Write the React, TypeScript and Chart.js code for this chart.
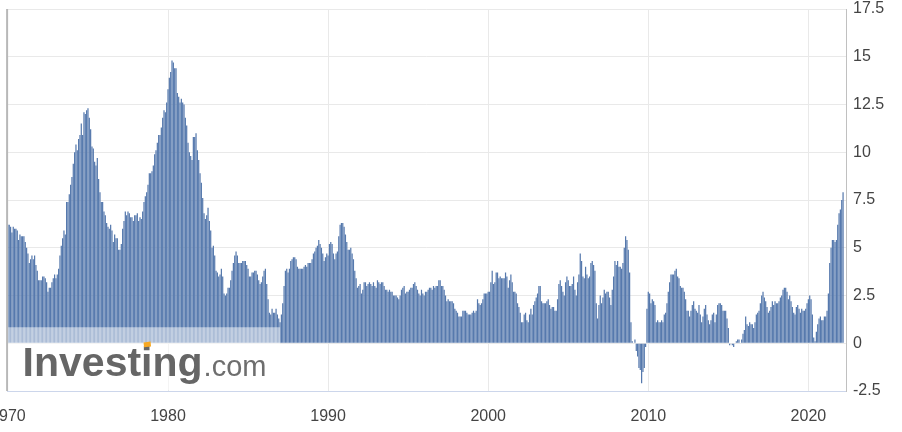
import React, { useEffect, useRef } from "react";
import { Chart, registerables } from "chart.js";

Chart.register(...registerables);

// US CPI, year-over-year %, one value per monthly release (first release: Jan 1970)
const FIRST_RELEASE_YEAR = 1970;
const cpiDec1969 = [6.2];
const cpi1970s = [
  6.2, 6.1, 5.8, 6.1, 6.0, 6.0, 5.9, 5.4, 5.7, 5.6, 5.6, 5.6,
  5.3, 5.0, 4.7, 4.2, 4.4, 4.6, 4.4, 4.6, 4.1, 3.8, 3.3, 3.3,
  3.3, 3.5, 3.5, 3.4, 3.2, 2.7, 2.9, 2.9, 3.2, 3.4, 3.6, 3.4,
  3.6, 3.9, 4.6, 5.1, 5.5, 5.9, 5.7, 7.4, 7.4, 7.8, 8.3, 8.7,
  9.4, 10.0, 10.4, 10.1, 10.7, 10.9, 11.5, 10.9, 12.1, 12.0, 12.2, 12.3,
  11.8, 11.2, 10.3, 10.2, 9.5, 9.3, 9.7, 8.6, 7.9, 7.4, 7.4, 6.9,
  6.7, 6.3, 6.1, 6.0, 6.2, 5.9, 5.3, 5.7, 5.5, 5.5, 4.9, 4.9,
  5.2, 6.0, 6.4, 6.9, 6.7, 6.9, 6.8, 6.6, 6.6, 6.4, 6.7, 6.7,
  6.8, 6.4, 6.6, 6.5, 6.9, 7.4, 7.7, 7.9, 8.3, 8.9, 8.9, 9.0,
  9.3, 9.9, 10.1, 10.5, 10.9, 10.9, 11.3, 11.8, 12.2, 12.1, 12.6, 13.3,
];
const cpi1980s = [
  13.9, 14.2, 14.8, 14.7, 14.4, 14.4, 13.1, 12.9, 12.6, 12.8, 12.6, 12.5,
  11.8, 11.4, 10.5, 10.0, 9.8, 9.6, 10.8, 10.8, 11.0, 10.1, 9.6, 8.9,
  8.4, 7.6, 6.8, 6.5, 6.7, 7.1, 6.4, 5.9, 5.0, 5.1, 4.6, 3.8,
  3.7, 3.5, 3.6, 3.9, 3.5, 2.6, 2.5, 2.6, 2.9, 2.9, 3.3, 3.8,
  4.2, 4.6, 4.8, 4.6, 4.2, 4.2, 4.2, 4.3, 4.3, 4.3, 4.1, 3.9,
  3.5, 3.5, 3.7, 3.7, 3.8, 3.8, 3.6, 3.3, 3.1, 3.2, 3.5, 3.8,
  3.9, 3.1, 2.3, 1.6, 1.5, 1.8, 1.6, 1.6, 1.8, 1.5, 1.3, 1.1,
  1.5, 2.1, 3.0, 3.8, 3.9, 3.7, 3.9, 4.3, 4.4, 4.5, 4.5, 4.4,
  4.0, 3.9, 3.9, 3.9, 3.9, 4.0, 4.1, 4.0, 4.2, 4.2, 4.2, 4.4,
  4.7, 4.8, 5.0, 5.1, 5.4, 5.2, 5.0, 4.7, 4.3, 4.5, 4.7, 4.6,
];
const cpi1990s = [
  5.2, 5.3, 5.2, 4.7, 4.4, 4.7, 4.8, 5.6, 6.2, 6.3, 6.3, 6.1,
  5.7, 5.3, 4.9, 4.9, 5.0, 4.7, 4.4, 3.8, 3.4, 2.9, 3.0, 3.1,
  2.6, 2.8, 3.2, 3.2, 3.0, 3.1, 3.2, 3.1, 3.0, 3.2, 3.0, 2.9,
  3.3, 3.2, 3.1, 3.2, 3.2, 3.0, 2.8, 2.8, 2.7, 2.8, 2.7, 2.7,
  2.5, 2.5, 2.5, 2.4, 2.3, 2.5, 2.8, 2.9, 3.0, 2.6, 2.7, 2.7,
  2.8, 2.9, 2.9, 3.1, 3.2, 3.0, 2.8, 2.6, 2.5, 2.8, 2.6, 2.5,
  2.7, 2.7, 2.8, 2.9, 2.9, 2.8, 3.0, 2.9, 3.0, 3.0, 3.3, 3.3,
  3.0, 3.0, 2.8, 2.5, 2.2, 2.3, 2.2, 2.2, 2.2, 2.1, 1.8, 1.7,
  1.6, 1.4, 1.4, 1.4, 1.7, 1.7, 1.7, 1.6, 1.5, 1.5, 1.5, 1.6,
  1.7, 1.6, 1.7, 2.3, 2.1, 2.0, 2.1, 2.3, 2.6, 2.6, 2.6, 2.7,
];
const cpi2000s = [
  2.7, 3.2, 3.8, 3.1, 3.2, 3.7, 3.7, 3.4, 3.5, 3.4, 3.4, 3.4,
  3.7, 3.5, 2.9, 3.3, 3.6, 3.2, 2.7, 2.7, 2.6, 2.1, 1.9, 1.6,
  1.1, 1.1, 1.5, 1.6, 1.2, 1.1, 1.5, 1.8, 1.5, 2.0, 2.2, 2.4,
  2.6, 3.0, 3.0, 2.2, 2.1, 2.1, 2.1, 2.2, 2.3, 2.0, 1.8, 1.9,
  1.9, 1.7, 1.7, 2.3, 3.1, 3.3, 3.0, 2.7, 2.5, 3.2, 3.5, 3.3,
  3.0, 3.0, 3.1, 3.5, 2.8, 2.5, 3.2, 3.6, 4.7, 4.3, 3.5, 3.4,
  4.0, 3.6, 3.4, 3.5, 4.2, 4.3, 4.1, 3.8, 2.1, 1.3, 2.0, 2.5,
  2.1, 2.4, 2.8, 2.6, 2.7, 2.7, 2.4, 2.0, 2.8, 3.5, 4.3, 4.1,
  4.3, 4.0, 4.0, 3.9, 4.2, 5.0, 5.6, 5.4, 4.9, 3.7, 1.1, 0.1,
  0.0, 0.2, -0.4, -0.7, -1.3, -1.4, -2.1, -1.5, -1.3, -0.2, 1.8, 2.7,
];
const cpi2010s = [
  2.6, 2.1, 2.3, 2.2, 2.0, 1.1, 1.2, 1.1, 1.1, 1.2, 1.1, 1.5,
  1.6, 2.1, 2.7, 3.2, 3.6, 3.6, 3.6, 3.8, 3.9, 3.5, 3.4, 3.0,
  2.9, 2.9, 2.7, 2.3, 1.7, 1.7, 1.4, 1.7, 2.0, 2.2, 1.8, 1.7,
  1.6, 2.0, 1.5, 1.1, 1.4, 1.8, 2.0, 1.5, 1.2, 1.0, 1.2, 1.5,
  1.6, 1.1, 1.5, 2.0, 2.1, 2.1, 2.0, 1.7, 1.7, 1.7, 1.3, 0.8,
  -0.1, 0.0, -0.1, -0.2, 0.0, 0.1, 0.2, 0.2, 0.0, 0.2, 0.5, 0.7,
  1.4, 1.0, 0.9, 1.1, 1.0, 1.0, 0.8, 1.1, 1.5, 1.6, 1.7, 2.1,
  2.5, 2.7, 2.4, 2.2, 1.9, 1.6, 1.7, 1.9, 2.2, 2.0, 2.2, 2.1,
  2.1, 2.2, 2.4, 2.5, 2.8, 2.9, 2.9, 2.7, 2.3, 2.5, 2.2, 1.9,
  1.6, 1.5, 1.9, 2.0, 1.8, 1.6, 1.8, 1.7, 1.7, 1.8, 2.1, 2.3,
];
const cpi2020s = [
  2.5, 2.3, 1.5, 0.3, 0.1, 0.6, 1.0, 1.3, 1.4, 1.2, 1.2, 1.4,
  1.4, 1.7, 2.6, 4.2, 5.0, 5.4, 5.4, 5.3, 5.4, 6.2, 6.8, 7.0,
  7.5, 7.9,
];

const X_MIN = 1969.98;
const X_MAX = 2022.35;
const X_STEP = 10;
const Y_MIN = -2.5;
const Y_MAX = 17.5;
const Y_STEP = 2.5;

const FONT = '"Liberation Sans", Arial, Helvetica, sans-serif';
const SHIFT = 24;

export default function App() {
  const ref = useRef<HTMLCanvasElement>(null);

  useEffect(() => {
    document.body.style.margin = "0";
    document.body.style.overflow = "hidden";
    const values = [
      ...cpiDec1969,
      ...cpi1970s,
      ...cpi1980s,
      ...cpi1990s,
      ...cpi2000s,
      ...cpi2010s,
      ...cpi2020s,
    ];
    const points = values.map((v, i) => ({ x: FIRST_RELEASE_YEAR + i / 12, y: v }));

    const decor = {
      id: "decor",
      afterDatasetsDraw(chart: any) {
        const { ctx, chartArea: a, scales } = chart;
        const y0 = scales.y.getPixelForValue(0);
        ctx.save();
        // left border
        ctx.fillStyle = "#b8b8b8";
        ctx.fillRect(a.left - 1.5, a.top, 2, a.bottom - a.top);
        // watermark band
        ctx.fillStyle = "rgba(255,255,255,0.5)";
        ctx.fillRect(a.left + 0.5, y0 - 16, 272, a.bottom - (y0 - 16) - 1);
        // watermark text
        const base = 376;
        const tx = a.left + 15;
        ctx.font = `bold 41px ${FONT}`;
        ctx.fillStyle = "#666666";
        ctx.textBaseline = "alphabetic";
        ctx.textAlign = "left";
        ctx.fillText("Investing", tx, base);
        const w = ctx.measureText("Investing").width;
        const wi = ctx.measureText("Invest").width;
        // orange dot on the "i"
        const ix = tx + wi + 41 * 0.06;
        ctx.fillStyle = "#f7a823";
        ctx.beginPath();
        ctx.moveTo(ix + 0.5, base - 41 * 0.7);
        ctx.lineTo(ix + 7.5, base - 41 * 0.72);
        ctx.lineTo(ix + 7, base - 41 * 0.84);
        ctx.lineTo(ix, base - 41 * 0.82);
        ctx.closePath();
        ctx.fill();
        ctx.font = `29px ${FONT}`;
        ctx.fillStyle = "#6e6e6e";
        ctx.fillText(".com", tx + w + 1, base);
        ctx.restore();
      },
    };

    const chart = new Chart(ref.current as HTMLCanvasElement, {
      type: "bar",
      data: {
        datasets: [
          {
            data: points as any,
            backgroundColor: "#5679ad",
            borderWidth: 0,
            barPercentage: 0.92,
            categoryPercentage: 1,
          },
        ],
      },
      options: {
        responsive: false,
        animation: false,
        devicePixelRatio: 1,
        layout: { padding: { left: SHIFT + 7.6, top: 9, right: 0, bottom: 0 } },
        plugins: { legend: { display: false }, tooltip: { enabled: false } },
        scales: {
          x: {
            type: "linear",
            min: X_MIN,
            max: X_MAX,
            offset: false,
            grid: { color: "#e9e9e9", drawTicks: false, offset: false },
            border: { color: "#ccd6eb", width: 1 },
            ticks: {
              stepSize: X_STEP,
              includeBounds: false,
              autoSkip: false,
              maxRotation: 0,
              padding: 16,
              color: "#444",
              font: { family: FONT, size: 16 },
              callback: (v: any) => String(Math.round(Number(v))),
            },
            afterFit: (s: any) => {
              s.height = 41;
              s.paddingLeft = 0;
              s.paddingRight = 0;
            },
          },
          y: {
            position: "right",
            min: Y_MIN,
            max: Y_MAX,
            grid: { color: "#e9e9e9", drawTicks: false },
            border: { color: "#c0c0c0", width: 1 },
            ticks: {
              stepSize: Y_STEP,
              padding: 7,
              color: "#444",
              font: { family: FONT, size: 16 },
              callback: (v: any) => String(v),
            },
            afterFit: (s: any) => {
              s.width = 56;
              s.paddingTop = 0;
              s.paddingBottom = 0;
            },
          },
        },
      },
      plugins: [decor],
    });
    return () => chart.destroy();
  }, []);

  return (
    <div style={{ position: "absolute", left: -SHIFT, top: 0, width: 902 + SHIFT, height: 432 }}>
      <canvas ref={ref} width={902 + SHIFT} height={432} style={{ display: "block" }} />
    </div>
  );
}
